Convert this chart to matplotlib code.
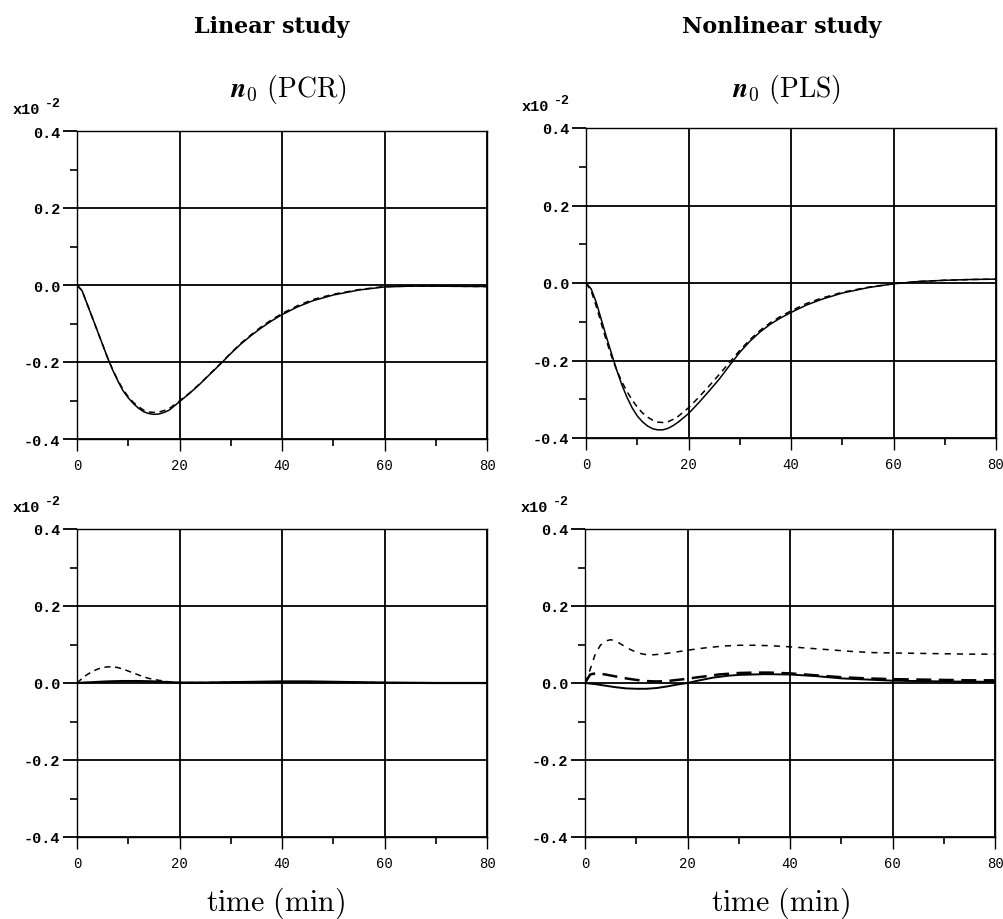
import matplotlib
matplotlib.use("Agg")
import matplotlib.pyplot as plt
from matplotlib.ticker import FixedLocator

plt.rcParams['mathtext.fontset'] = 'cm'
plt.rcParams['axes.unicode_minus'] = False

# ---------------- data (values in units of 1e-2) ----------------
x_ticks = [0, 20, 40, 60, 80]
x_tick_labels = ['0', '20', '40', '60', '80']
y_ticks = [-0.4, -0.2, 0.0, 0.2, 0.4]
y_tick_labels = ['-0.4', '-0.2', '0.0', '0.2', '0.4']

col_titles = ['Linear study', 'Nonlinear study']
panel_titles = [r'$\boldsymbol{n}_\mathbf{0}\ \mathrm{(PCR)}$', r'$\boldsymbol{n}_\mathbf{0}\ \mathrm{(PLS)}$']
x_label = r'$\mathrm{time\ (min)}$'

# top-left : linear study, PCR
tl_t = [0, 1, 2, 3, 4, 5, 6, 7, 8, 9, 10, 11, 12, 13, 14, 15, 16, 17, 18, 20, 22, 24,
        26, 28, 30, 32, 34, 36, 38, 40, 43, 46, 50, 55, 60, 65, 70, 80]
tl_solid = [0, -0.015, -0.05, -0.085, -0.12, -0.155, -0.19, -0.222, -0.25, -0.275, -0.293,
            -0.308, -0.32, -0.329, -0.334, -0.336, -0.335, -0.331, -0.325, -0.303, -0.281,
            -0.257, -0.231, -0.205, -0.178, -0.153, -0.131, -0.111, -0.093, -0.077, -0.057,
            -0.041, -0.026, -0.013, -0.005, -0.003, -0.003, -0.004]
tl_dash = [0, -0.015, -0.05, -0.085, -0.12, -0.155, -0.19, -0.221, -0.248, -0.272, -0.29,
           -0.305, -0.316, -0.325, -0.33, -0.331, -0.33, -0.326, -0.321, -0.301, -0.28,
           -0.256, -0.23, -0.204, -0.177, -0.151, -0.129, -0.108, -0.09, -0.074, -0.054,
           -0.038, -0.024, -0.012, -0.004, -0.003, -0.003, -0.004]

# top-right : nonlinear study, PLS
tr_t = [0, 1, 2, 3, 4, 5, 6, 7, 8, 9, 10, 11, 12, 13, 14, 15, 16, 17, 18, 20, 22, 24,
        26, 28, 30, 32, 34, 36, 38, 40, 43, 46, 50, 55, 60, 65, 70, 75, 80]
tr_solid = [0, -0.015, -0.05, -0.095, -0.14, -0.183, -0.225, -0.263, -0.295, -0.322, -0.343,
            -0.358, -0.369, -0.376, -0.379, -0.379, -0.375, -0.368, -0.359, -0.337, -0.309,
            -0.279, -0.248, -0.213, -0.179, -0.150, -0.126, -0.106, -0.090, -0.076, -0.057,
            -0.042, -0.026, -0.012, -0.002, 0.004, 0.007, 0.009, 0.01]
tr_dash = [0, -0.02, -0.06, -0.105, -0.15, -0.19, -0.225, -0.255, -0.28, -0.302, -0.32,
           -0.335, -0.346, -0.354, -0.359, -0.36, -0.358, -0.352, -0.344, -0.322, -0.295,
           -0.266, -0.236, -0.205, -0.174, -0.146, -0.122, -0.102, -0.086, -0.072, -0.053,
           -0.039, -0.024, -0.011, -0.002, 0.004, 0.007, 0.009, 0.01]

# bottom-left : linear study
bl_t_solid = [0, 3, 6, 9, 12, 15, 18, 20, 25, 30, 35, 40, 45, 50, 55, 60, 70, 80]
bl_solid = [0, 0.002, 0.004, 0.005, 0.005, 0.004, 0.002, 0.001, 0.001, 0.002, 0.003, 0.004,
            0.004, 0.003, 0.002, 0.001, 0, 0]
bl_t_dash = [0, 1, 2, 3, 4, 5, 6, 7, 8, 9, 10, 11, 12, 13, 14, 15, 16, 17, 18, 19, 20, 25,
             30, 40, 50, 60, 70, 80]
bl_dash = [0, 0.012, 0.022, 0.03, 0.036, 0.04, 0.042, 0.042, 0.04, 0.036, 0.031, 0.026,
           0.021, 0.016, 0.012, 0.009, 0.007, 0.005, 0.003, 0.002, 0.001, 0.001, 0.002,
           0.003, 0.002, 0.001, 0, 0]

# bottom-right : nonlinear study
br_t_short = [0, 0.5, 1, 2, 3, 4, 5, 6, 7, 8, 9, 10, 11, 12, 13, 14, 16, 18, 20, 22, 24, 27,
              30, 33, 36, 40, 44, 48, 52, 56, 60, 65, 70, 75, 80]
br_short = [0, 0.015, 0.035, 0.075, 0.098, 0.109, 0.1125, 0.109, 0.101, 0.093, 0.086, 0.08,
            0.076, 0.0735, 0.073, 0.074, 0.077, 0.081, 0.085, 0.089, 0.092, 0.096, 0.098,
            0.098, 0.097, 0.094, 0.09, 0.086, 0.082, 0.079, 0.078, 0.077, 0.076, 0.075, 0.075]
br_t_long = [0, 1, 2, 3, 4, 6, 8, 10, 12, 14, 16, 18, 20, 22, 24, 26, 28, 30, 33, 36, 40,
             45, 50, 55, 60, 65, 70, 75, 80]
br_long = [0, 0.022, 0.025, 0.024, 0.022, 0.017, 0.012, 0.008, 0.005, 0.004, 0.005, 0.008,
           0.011, 0.015, 0.018, 0.022, 0.024, 0.026, 0.027, 0.027, 0.025, 0.02, 0.015, 0.012,
           0.01, 0.009, 0.008, 0.007, 0.007]
br_t_solid = [0, 2, 4, 6, 8, 10, 12, 14, 16, 18, 20, 22, 25, 28, 30, 35, 40, 45, 50, 55, 60,
              70, 80]
br_solid = [0, -0.003, -0.007, -0.011, -0.014, -0.015, -0.015, -0.013, -0.009, -0.004, 0,
            0.006, 0.014, 0.019, 0.021, 0.023, 0.022, 0.018, 0.012, 0.009, 0.006, 0.004, 0.003]

# ---------------- figure ----------------
W, H = 1004, 920
fig = plt.figure(figsize=(W / 100, H / 100), dpi=100)


def px_axes(left, top, right, bottom):
    return fig.add_axes([left / W, 1 - bottom / H, (right - left) / W, (bottom - top) / H])


ax_tl = px_axes(77, 132, 487, 440)
ax_tr = px_axes(586, 129, 996, 439)
ax_bl = px_axes(77, 530, 487, 838)
ax_br = px_axes(585, 530, 995, 838)

mono = 'Liberation Mono'

for ax in (ax_tl, ax_tr, ax_bl, ax_br):
    ax.set_xlim(0, 80)
    ax.set_ylim(-0.4, 0.4)
    ax.xaxis.set_major_locator(FixedLocator(x_ticks))
    ax.xaxis.set_minor_locator(FixedLocator([10, 30, 50, 70]))
    ax.yaxis.set_major_locator(FixedLocator(y_ticks))
    ax.yaxis.set_minor_locator(FixedLocator([-0.3, -0.1, 0.1, 0.3]))
    ax.set_xticklabels(x_tick_labels, fontfamily=mono, fontsize=10)
    ax.set_yticklabels(y_tick_labels, fontfamily=mono, fontsize=11, fontweight='bold')
    ax.grid(True, which='major', color='black', linewidth=1.3)
    ax.tick_params(axis='y', which='major', direction='out', length=10, width=1.3, pad=2)
    ax.tick_params(axis='x', which='major', direction='out', length=8.5, width=1.0, pad=5)
    ax.tick_params(which='minor', direction='out', length=5, width=1.2)
    for s in ax.spines.values():
        s.set_linewidth(1.0)
        s.set_color('black')
    ax.text(-0.156, 1.058, 'x10', transform=ax.transAxes, fontfamily=mono, fontsize=11,
            fontweight='bold', ha='left', va='baseline')
    ax.text(-0.078, 1.082, '-2', transform=ax.transAxes, fontfamily=mono, fontsize=9.5,
            fontweight='bold', ha='left', va='baseline')

lw = 1.1
ax_tl.plot(tl_t, tl_solid, color='black', lw=lw)
ax_tl.plot(tl_t, tl_dash, color='black', lw=lw, dashes=(4, 3))

ax_tr.plot(tr_t, tr_solid, color='black', lw=lw)
ax_tr.plot(tr_t, tr_dash, color='black', lw=lw, dashes=(4, 3))

ax_bl.plot(bl_t_solid, bl_solid, color='black', lw=1.6)
ax_bl.plot(bl_t_dash, bl_dash, color='black', lw=lw, dashes=(4, 3))

ax_br.plot(br_t_solid, br_solid, color='black', lw=1.4)
ax_br.plot(br_t_long, br_long, color='black', lw=1.8, dashes=(6, 3))
ax_br.plot(br_t_short, br_short, color='black', lw=lw, dashes=(4, 4))

# titles
for xc, t in zip((272, 782), col_titles):
    fig.text(xc / W, 1 - 27 / H, t, ha='center', va='center', fontsize=16,
             fontfamily='DejaVu Serif', fontweight='bold')
for xc, t in zip((288, 787), panel_titles):
    fig.text(xc / W, 1 - 90 / H, t, ha='center', va='center', fontsize=20)
for xc in (275, 780):
    fig.text(xc / W, 1 - 903 / H, x_label, ha='center', va='center', fontsize=21.5)

fig.savefig('out.png', dpi=100)
